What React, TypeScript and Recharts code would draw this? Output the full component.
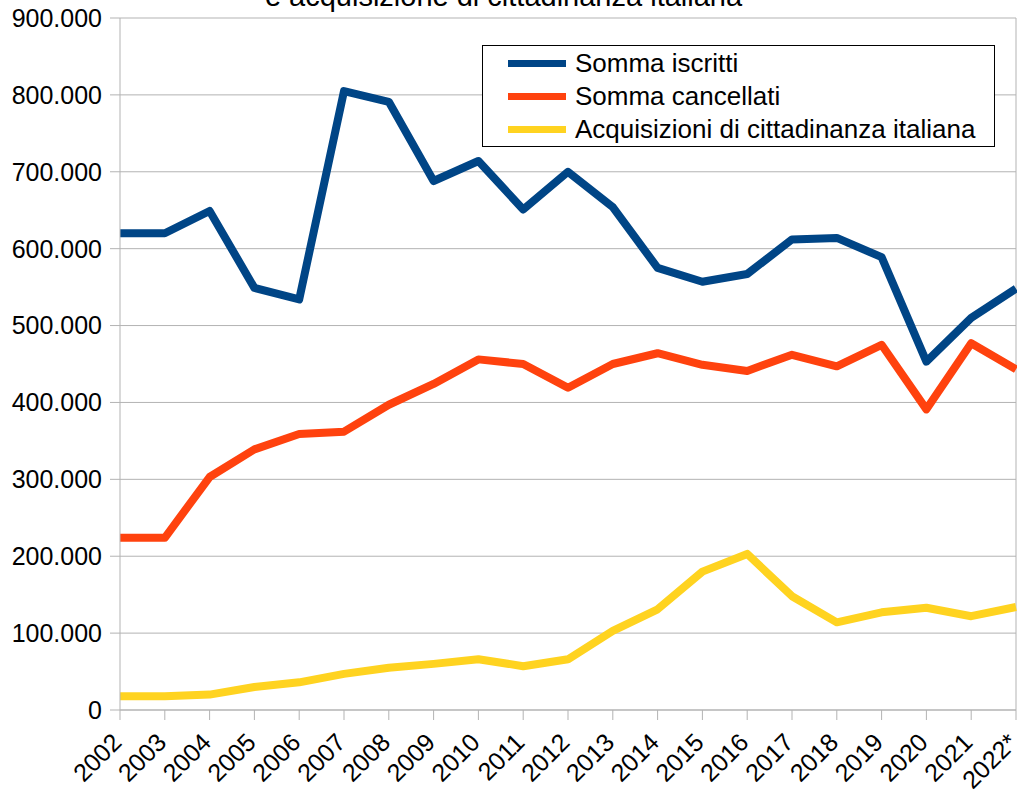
import { LineChart, Line, XAxis, YAxis, CartesianGrid, Legend, ReferenceLine } from "recharts";

const years = ["2002", "2003", "2004", "2005", "2006", "2007", "2008", "2009", "2010", "2011", "2012", "2013", "2014", "2015", "2016", "2017", "2018", "2019", "2020", "2021", "2022*"];
const iscritti = [620000, 620000, 649000, 549000, 534000, 805000, 791000, 688000, 714000, 651000, 700000, 654000, 575000, 557000, 567000, 612000, 614000, 589000, 453000, 510000, 548000];
const cancellati = [224000, 224000, 303000, 339000, 359000, 362000, 397000, 424000, 456000, 450000, 419000, 450000, 464000, 449000, 441000, 462000, 447000, 475000, 391000, 477000, 443000];
const acquisizioni = [18000, 18000, 20000, 30000, 36000, 47000, 55000, 60000, 66000, 57000, 66000, 103000, 131000, 180000, 203000, 148000, 114000, 127000, 133000, 122000, 134000];
const yTicks = [0, 100000, 200000, 300000, 400000, 500000, 600000, 700000, 800000, 900000];

const seriesNames = ["Somma iscritti", "Somma cancellati", "Acquisizioni di cittadinanza italiana"];
const colors = ["#004586", "#ff420e", "#ffd320"];

const data = years.map((y, i) => ({
  year: y,
  iscritti: iscritti[i],
  cancellati: cancellati[i],
  acquisizioni: acquisizioni[i],
}));

const FONT = "'Liberation Sans', Arial, sans-serif";
const GRAY = "#b3b3b3";

const fmt = (v: number) => String(v).replace(/\B(?=(\d{3})+(?!\d))/g, ".");

function YearTick(props: any) {
  const { x, y, payload } = props;
  return (
    <g transform={`translate(${x + 3},${y + 24})`}>
      <text
        transform="rotate(-45)"
        textAnchor="end"
        fontSize={25}
        fontFamily={FONT}
        fill="#000"
      >
        {payload.value}
      </text>
    </g>
  );
}

function LegendBox() {
  return (
    <div
      style={{
        width: 511,
        height: 100,
        border: "1px solid #000",
        background: "#fff",
        fontFamily: FONT,
        fontSize: 26,
        color: "#000",
        position: "relative",
      }}
    >
      {seriesNames.map((name, i) => (
        <div
          key={name}
          style={{
            position: "absolute",
            left: 25,
            top: 1 + i * 33,
            height: 33,
            display: "flex",
            alignItems: "center",
            whiteSpace: "nowrap",
          }}
        >
          <span style={{ display: "inline-block", width: 58, height: 7, background: colors[i], marginRight: 9 }} />
          <span style={{ lineHeight: "33px" }}>{name}</span>
        </div>
      ))}
    </div>
  );
}

export default function App() {
  return (
    <div style={{ position: "absolute", left: 0, top: 0, width: 1017, height: 795, background: "#fff", overflow: "hidden" }}>
      <div
        style={{
          position: "absolute",
          left: 0,
          width: 1007,
          top: -18,
          textAlign: "center",
          fontFamily: FONT,
          fontSize: 29,
          lineHeight: "29px",
          whiteSpace: "nowrap",
        }}
      >
        e acquisizione di cittadinanza italiana
      </div>
      <LineChart width={1017} height={795} data={data} margin={{ top: 18, right: 1, left: 0, bottom: 0 }}>
        <CartesianGrid stroke={GRAY} vertical={false} />
        <XAxis
          dataKey="year"
          height={85}
          interval={0}
          tickSize={10}
          tickMargin={0}
          stroke={GRAY}
          tick={<YearTick />}
        />
        <YAxis
          width={120}
          domain={[0, 900000]}
          ticks={yTicks}
          tickFormatter={fmt}
          tickSize={10}
          tickMargin={8}
          stroke={GRAY}
          tick={{ fontSize: 25, fontFamily: FONT, fill: "#000" }}
        />
        <ReferenceLine x="2022*" stroke={GRAY} />
        <Legend
          layout="vertical"
          align="center"
          verticalAlign="middle"
          content={<LegendBox />}
          wrapperStyle={{ position: "absolute", left: 482, top: 45, width: 513, height: 102 }}
        />
        <Line dataKey="iscritti" name={seriesNames[0]} stroke={colors[0]} strokeWidth={8} dot={false} strokeLinejoin="round" isAnimationActive={false} />
        <Line dataKey="cancellati" name={seriesNames[1]} stroke={colors[1]} strokeWidth={8} dot={false} strokeLinejoin="round" isAnimationActive={false} />
        <Line dataKey="acquisizioni" name={seriesNames[2]} stroke={colors[2]} strokeWidth={8} dot={false} strokeLinejoin="round" isAnimationActive={false} />
      </LineChart>
    </div>
  );
}
